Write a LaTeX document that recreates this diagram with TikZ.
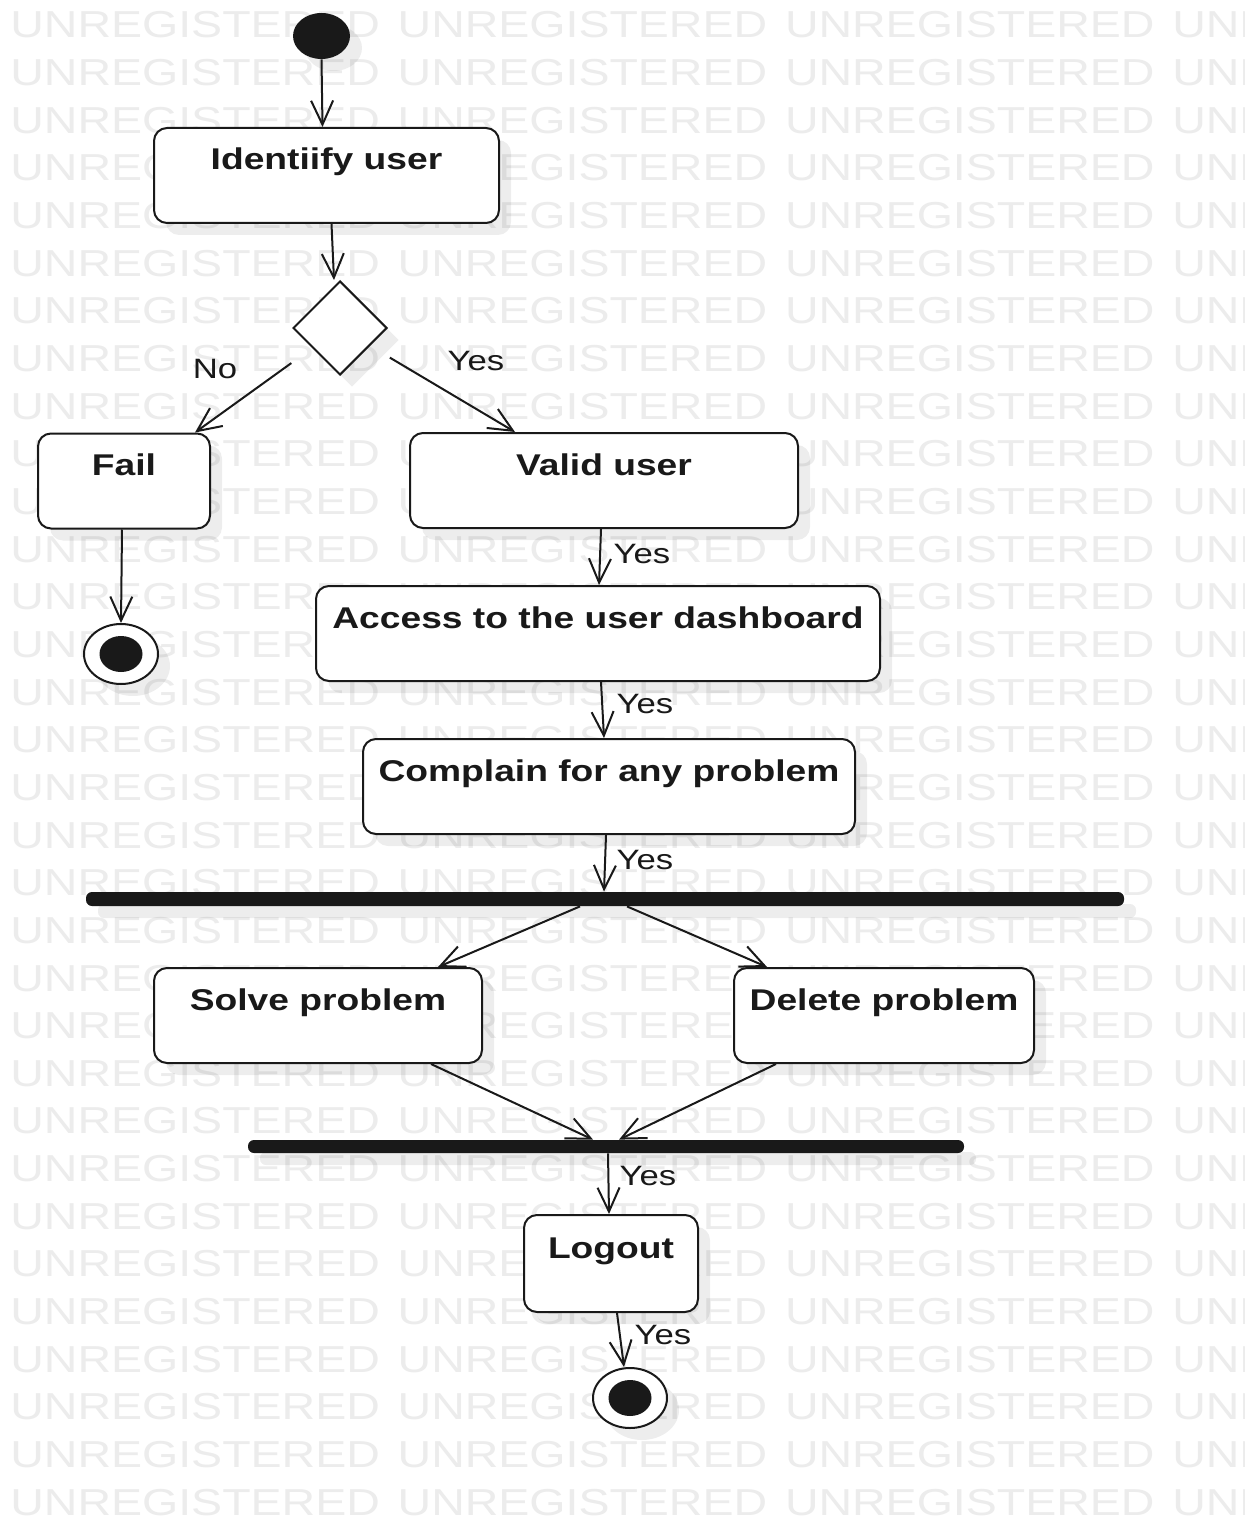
\documentclass[tikz,border=0pt]{standalone}
\usepackage{fontspec}
\usetikzlibrary{arrows.meta,shapes.geometric,calc,shadows}
\newfontfamily\diafont{Liberation Sans}[FakeStretch=1.24]
\definecolor{wmgray}{RGB}{236,236,236}
\definecolor{ink}{RGB}{25,25,25}

\begin{document}
\begin{tikzpicture}[x=0.5pt,y=-0.5pt,
  every node/.style={font=\diafont},
  soft/.style={drop shadow={shadow xshift=6pt,shadow yshift=-6pt,opacity=0.07,fill=black}},
  action/.style={draw=ink, line width=1pt, fill=white, rounded corners=6.5pt,
    inner xsep=0pt, inner ysep=0pt, text height=21pt, text depth=26.5pt,
    minimum height=47.5pt, text=ink,
    font=\diafont\bfseries\fontsize{15pt}{18pt}\selectfont, soft},
  initial/.style={ellipse, fill=ink, minimum width=28.5pt, minimum height=23pt, inner sep=0pt, soft},
  final/.style={ellipse, draw=ink, line width=1pt, fill=white, minimum width=37pt,
    minimum height=30pt, inner sep=0pt, soft,
    path picture={\fill[ink] (path picture bounding box.center) ellipse [x radius=10.75pt, y radius=9pt];}},
  choice/.style={diamond, draw=ink, line width=1pt, fill=white, shape aspect=1,
    minimum width=47pt, minimum height=47pt, inner sep=0pt, soft},
  syncbar/.style={fill=ink, rounded corners=3pt, minimum height=7pt, inner sep=0pt, soft},
  flow/.style={draw=ink, line width=1pt, -{Straight Barb[length=12pt,width=11pt]}},
  guard/.style={inner sep=0pt, text=ink, font=\diafont\fontsize{14pt}{16pt}\selectfont},
  wm/.style={inner sep=0pt, text=wmgray, anchor=base west, font=\diafont\fontsize{18.75pt}{20pt}\selectfont}
]
\useasboundingbox (0,0) rectangle (1244,1518);
\fill[white] (0,0) rectangle (1244,1518);

% background watermark rows
\begin{scope}
  \clip (0,0) rectangle (1244,1518);
  \foreach \r in {0,...,31}
    \foreach \c in {0,...,3}
      \node[wm] (wm-\r-\c) at ({10+387.3*\c},{38+47.65*\r}) {UNREGISTERED};
\end{scope}

% activity nodes
\node[initial] (start) at (321.5,36) {};
\node[action, minimum width=172.5pt] (ident) at (326.5,175.5) {Identiify user};
\node[choice] (dec) at (340,328) {};
\node[action, minimum width=86pt] (fail) at (124,481) {Fail};
\node[action, minimum width=194pt] (valid) at (604,480.5) {Valid user};
\node[final] (endA) at (121,654) {};
\node[action, minimum width=282pt] (access) at (598,633.5) {Access to the user dashboard};
\node[action, minimum width=246pt] (complain) at (609,786.5) {Complain for any problem};
\node[syncbar, minimum width=519pt] (bar1) at (605,899) {};
\node[action, minimum width=164pt] (solve) at (318,1015.5) {Solve problem};
\node[action, minimum width=150pt] (delete) at (884,1015.5) {Delete problem};
\node[syncbar, minimum width=358pt, minimum height=6.5pt] (bar2) at (606,1146.5) {};
\node[action, minimum width=87pt, minimum height=48.5pt] (logout) at (611,1263.5) {Logout};
\node[final] (endB) at (630,1398) {};

% transitions
\draw[flow] (start.south) -- ($(ident.north)+(-4,0)$);
\draw[flow] ($(ident.south)+(5,0)$) -- ($(dec.north)+(-6,0)$);
\draw[flow, shorten <=30pt] (dec.center) -- ($(fail.north east)+(-16,0)$);
\draw[flow, shorten <=29pt] (dec.center) -- ($(valid.north west)+(106,0)$);
\draw[flow] ($(fail.south)+(-2,0)$) -- (endA.north);
\draw[flow] ($(valid.south)+(-3,0)$) -- ($(access.north)+(1,0)$);
\draw[flow] ($(access.south)+(3,0)$) -- ($(complain.north)+(-5,0)$);
\draw[flow] ($(complain.south)+(-3,0)$) -- ($(bar1.north)+(-1,0)$);
\draw[flow] ($(bar1.south)+(-25,0)$) -- ($(solve.north)+(120,0)$);
\draw[flow] ($(bar1.south)+(22,0)$) -- ($(delete.north)+(-117,0)$);
\draw[flow] ($(solve.south)+(113,0)$) -- ($(bar2.north)+(-13,0)$);
\draw[flow] ($(delete.south)+(-108,0)$) -- ($(bar2.north)+(13,0)$);
\draw[flow] ($(bar2.south)+(2,0)$) -- ($(logout.north)+(-2,0)$);
\draw[flow] ($(logout.south)+(6,0)$) -- ($(endB.north)+(-6,0)$);

% guard labels
\node[guard] (gNo) at (215,369) {No};
\node[guard] (gYes1) at (476,361) {Yes};
\node[guard] (gYes2) at (642,554) {Yes};
\node[guard] (gYes3) at (645,704) {Yes};
\node[guard] (gYes4) at (645,860) {Yes};
\node[guard] (gYes5) at (648,1176) {Yes};
\node[guard] (gYes6) at (663,1335) {Yes};
\end{tikzpicture}
\end{document}
